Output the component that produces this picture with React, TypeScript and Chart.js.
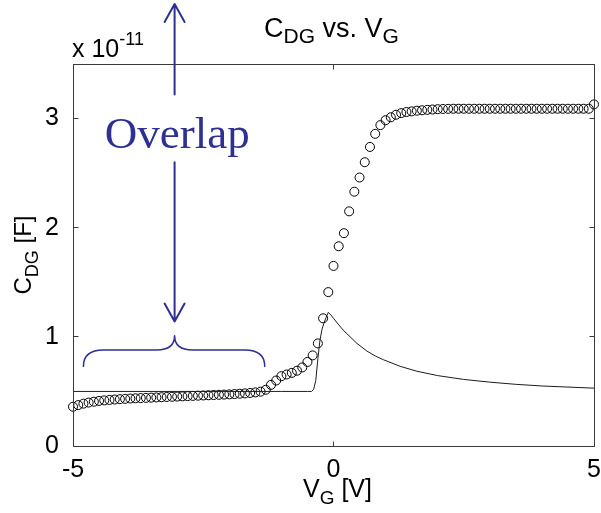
import React, { useEffect, useRef } from 'react';
import { Chart, registerables } from 'chart.js';

Chart.register(...registerables);

// Measured C_DG (circles), units of 1e-11 F
const VG_MEASURED = [
  -5.0, -4.9, -4.8, -4.7, -4.6, -4.5, -4.4, -4.3, -4.2, -4.1,
  -4.0, -3.9, -3.8, -3.7, -3.6, -3.5, -3.4, -3.3, -3.2, -3.1,
  -3.0, -2.9, -2.8, -2.7, -2.6, -2.5, -2.4, -2.3, -2.2, -2.1,
  -2.0, -1.9, -1.8, -1.7, -1.6, -1.5, -1.4, -1.3, -1.2, -1.1,
  -1.0, -0.9, -0.8, -0.7, -0.6, -0.5, -0.4, -0.3, -0.2, -0.1,
  0.0, 0.1, 0.2, 0.3, 0.4, 0.5, 0.6, 0.7, 0.8, 0.9,
  1.0, 1.1, 1.2, 1.3, 1.4, 1.5, 1.6, 1.7, 1.8, 1.9,
  2.0, 2.1, 2.2, 2.3, 2.4, 2.5, 2.6, 2.7, 2.8, 2.9,
  3.0, 3.1, 3.2, 3.3, 3.4, 3.5, 3.6, 3.7, 3.8, 3.9,
  4.0, 4.1, 4.2, 4.3, 4.4, 4.5, 4.6, 4.7, 4.8, 4.9,
  5.0,
];
const CDG_MEASURED = [
  0.36, 0.375, 0.388, 0.398, 0.406, 0.413, 0.418, 0.422, 0.426, 0.429,
  0.432, 0.435, 0.437, 0.439, 0.441, 0.443, 0.445, 0.447, 0.449, 0.451,
  0.453, 0.455, 0.457, 0.459, 0.461, 0.463, 0.465, 0.467, 0.469, 0.471,
  0.473, 0.476, 0.479, 0.482, 0.486, 0.491, 0.498, 0.515, 0.56, 0.6,
  0.64, 0.655, 0.67, 0.69, 0.72, 0.77, 0.83, 0.94, 1.17, 1.41,
  1.65, 1.83, 1.95, 2.15, 2.33, 2.46, 2.6, 2.74, 2.86, 2.94,
  2.985, 3.012, 3.035, 3.05, 3.06, 3.066, 3.072, 3.076, 3.08, 3.083,
  3.086, 3.088, 3.089, 3.09, 3.09, 3.09, 3.09, 3.09, 3.09, 3.09,
  3.09, 3.09, 3.09, 3.09, 3.09, 3.09, 3.09, 3.09, 3.09, 3.09,
  3.09, 3.09, 3.09, 3.09, 3.09, 3.09, 3.09, 3.09, 3.09, 3.09,
  3.13,
];

// Simulated C_DG (solid line), units of 1e-11 F
const VG_MODEL = [
  -5.0, -3.0, -1.0, -0.5, -0.42, -0.38, -0.34, -0.3, -0.26, -0.22,
  -0.18, -0.14, -0.1, -0.05, 0.0, 0.1, 0.2, 0.32, 0.45, 0.64,
  0.8, 0.96, 1.28, 1.6, 2.0, 2.5, 3.0, 3.5, 4.0, 4.5,
  5.0,
];
const CDG_MODEL = [
  0.5, 0.5, 0.5, 0.5, 0.5, 0.52, 0.6, 0.8, 0.97, 1.07,
  1.13, 1.18, 1.225, 1.2, 1.17, 1.11, 1.055, 1.0, 0.94, 0.87,
  0.825, 0.79, 0.73, 0.685, 0.645, 0.61, 0.585, 0.565, 0.55, 0.54,
  0.53,
];

const X_TICKS = [-5, 0, 5];
const Y_TICKS = [0, 1, 2, 3];

// Annotation anchors in data units
const ARROW_X = -3.05;
const ARROW_TOP = 4.05;
const ARROW_GAP_TOP = 3.22;
const ARROW_GAP_BOTTOM = 2.6;
const ARROW_BOTTOM = 1.14;
const LABEL_X = -3.0;
const LABEL_Y = 2.73;
const BRACE_X0 = -4.8;
const BRACE_X1 = -1.32;
const BRACE_XM = -3.05;
const BRACE_Y_END = 0.73;
const BRACE_Y_BAR = 0.88;
const BRACE_Y_TIP = 1.01;

const SANS = "'Liberation Sans', Arial, Helvetica, sans-serif";
const SERIF = "'Liberation Serif', 'Times New Roman', serif";
const BLUE = '#2E3192';
const AXIS_COLOR = '#3a3a3a';

type Part = { t: string; s: number; dy: number };

function drawRich(ctx: CanvasRenderingContext2D, parts: Part[], x: number, y: number, align: 'left' | 'center') {
  let w = 0;
  for (const p of parts) {
    ctx.font = `${p.s}px ${SANS}`;
    w += ctx.measureText(p.t).width;
  }
  let cx = align === 'center' ? x - w / 2 : x;
  ctx.textAlign = 'left';
  ctx.textBaseline = 'alphabetic';
  for (const p of parts) {
    ctx.font = `${p.s}px ${SANS}`;
    ctx.fillText(p.t, cx, y + p.dy);
    cx += ctx.measureText(p.t).width;
  }
}

const decor = {
  id: 'decor',
  afterDraw(chart: any) {
    const { ctx, chartArea: a, scales } = chart;
    const xs = scales.x;
    const ys = scales.y;
    ctx.save();
    // axes box
    ctx.strokeStyle = AXIS_COLOR;
    ctx.lineWidth = 1;
    const L = Math.floor(a.left) + 0.5;
    const T = Math.floor(a.top) + 0.5;
    const R = L + Math.round(a.right - a.left);
    const B = T + Math.round(a.bottom - a.top);
    ctx.strokeRect(L, T, R - L, B - T);
    // inward ticks
    ctx.beginPath();
    for (const v of X_TICKS) {
      const px = Math.floor(xs.getPixelForValue(v)) + 0.5;
      ctx.moveTo(px, B); ctx.lineTo(px, B - 5);
      ctx.moveTo(px, T); ctx.lineTo(px, T + 5);
    }
    for (const v of Y_TICKS) {
      const py = Math.floor(ys.getPixelForValue(v)) + 0.5;
      ctx.moveTo(L, py); ctx.lineTo(L + 5, py);
      ctx.moveTo(R, py); ctx.lineTo(R - 5, py);
    }
    ctx.stroke();

    // texts
    ctx.fillStyle = '#000';
    const midX = (a.left + a.right) / 2;
    drawRich(ctx, [
      { t: 'C', s: 27, dy: 0 },
      { t: 'DG', s: 21, dy: 6 },
      { t: ' vs. V', s: 27, dy: 0 },
      { t: 'G', s: 21, dy: 6 },
    ], midX - 2, 37, 'center');
    drawRich(ctx, [
      { t: 'x 10', s: 25, dy: 0 },
      { t: '-11', s: 18, dy: -12 },
    ], a.left - 1, 57, 'left');
    drawRich(ctx, [
      { t: 'V', s: 25, dy: 0 },
      { t: 'G', s: 19, dy: 7 },
      { t: ' [V]', s: 25, dy: 0 },
    ], midX + 4, 497, 'center');
    ctx.save();
    ctx.translate(31, (a.top + a.bottom) / 2);
    ctx.rotate(-Math.PI / 2);
    drawRich(ctx, [
      { t: 'C', s: 24, dy: 0 },
      { t: 'DG', s: 18, dy: 7 },
      { t: ' [F]', s: 24, dy: 0 },
    ], 0, 0, 'center');
    ctx.restore();

    // annotation: arrow, label, brace
    ctx.strokeStyle = BLUE;
    ctx.fillStyle = BLUE;
    ctx.lineWidth = 2;
    ctx.lineCap = 'round';
    ctx.lineJoin = 'round';
    const ax = xs.getPixelForValue(ARROW_X);
    const yTop = ys.getPixelForValue(ARROW_TOP);
    const yG1 = ys.getPixelForValue(ARROW_GAP_TOP);
    const yG2 = ys.getPixelForValue(ARROW_GAP_BOTTOM);
    const yBot = ys.getPixelForValue(ARROW_BOTTOM);
    ctx.beginPath();
    ctx.moveTo(ax, yTop); ctx.lineTo(ax, yG1);
    ctx.moveTo(ax, yG2); ctx.lineTo(ax, yBot);
    ctx.moveTo(ax - 10, yTop + 18); ctx.lineTo(ax, yTop); ctx.lineTo(ax + 10, yTop + 18);
    ctx.moveTo(ax - 10, yBot - 18); ctx.lineTo(ax, yBot); ctx.lineTo(ax + 10, yBot - 18);
    ctx.stroke();

    ctx.font = `45px ${SERIF}`;
    ctx.textAlign = 'center';
    ctx.textBaseline = 'alphabetic';
    ctx.fillText('Overlap', xs.getPixelForValue(LABEL_X), ys.getPixelForValue(LABEL_Y));

    const bx0 = xs.getPixelForValue(BRACE_X0);
    const bx1 = xs.getPixelForValue(BRACE_X1);
    const bxm = xs.getPixelForValue(BRACE_XM);
    const be = ys.getPixelForValue(BRACE_Y_END);
    const bb = ys.getPixelForValue(BRACE_Y_BAR);
    const bt = ys.getPixelForValue(BRACE_Y_TIP);
    ctx.lineWidth = 1.6;
    ctx.beginPath();
    ctx.moveTo(bx0, be);
    ctx.quadraticCurveTo(bx0, bb, bx0 + 20, bb);
    ctx.lineTo(bxm - 18, bb);
    ctx.quadraticCurveTo(bxm, bb, bxm, bt);
    ctx.quadraticCurveTo(bxm, bb, bxm + 18, bb);
    ctx.lineTo(bx1 - 20, bb);
    ctx.quadraticCurveTo(bx1, bb, bx1, be);
    ctx.stroke();
    ctx.restore();
  },
};

export default function App() {
  const ref = useRef<HTMLCanvasElement | null>(null);
  useEffect(() => {
    if (!ref.current) return;
    const chart = new Chart(ref.current, {
      type: 'scatter',
      data: {
        datasets: [
          {
            type: 'line',
            data: VG_MODEL.map((x, i) => ({ x, y: CDG_MODEL[i] })),
            borderColor: '#1c1c1c',
            borderWidth: 1,
            pointRadius: 0,
            tension: 0,
            fill: false,
          } as any,
          {
            type: 'scatter',
            data: VG_MEASURED.map((x, i) => ({ x, y: CDG_MEASURED[i] })),
            pointRadius: 4.5,
            pointBorderWidth: 1,
            pointBorderColor: '#000',
            pointBackgroundColor: 'rgba(0,0,0,0)',
            clip: false,
          } as any,
        ],
      },
      options: {
        animation: false,
        responsive: false,
        layout: { padding: { left: 0, right: 7, top: 64, bottom: 0 } },
        plugins: { legend: { display: false }, tooltip: { enabled: false }, title: { display: false } },
        scales: {
          x: {
            type: 'linear',
            min: -5,
            max: 5,
            grid: { display: false },
            border: { display: false },
            afterBuildTicks: (s: any) => { s.ticks = X_TICKS.map((v) => ({ value: v })); },
            afterFit: (s: any) => { s.height = 67; s.paddingLeft = 0; s.paddingRight = 0; },
            ticks: {
              font: { family: SANS, size: 25 },
              color: '#000',
              padding: 1,
              maxRotation: 0,
              autoSkip: false,
              callback: (v: any) => String(v),
            },
          },
          y: {
            type: 'linear',
            min: 0,
            max: 3.5,
            grid: { display: false },
            border: { display: false },
            afterBuildTicks: (s: any) => { s.ticks = Y_TICKS.map((v) => ({ value: v })); },
            afterFit: (s: any) => { s.width = 73; s.paddingTop = 0; s.paddingBottom = 0; },
            ticks: {
              font: { family: SANS, size: 25 },
              color: '#000',
              padding: 6,
              autoSkip: false,
              callback: (v: any) => String(v),
            },
          },
        },
      },
      plugins: [decor],
    });
    return () => chart.destroy();
  }, []);
  return (
    <div style={{ position: 'fixed', left: 0, top: 0, width: 601, height: 513, background: '#fff' }}>
      <canvas ref={ref} width={601} height={513} style={{ display: 'block' }} />
    </div>
  );
}
